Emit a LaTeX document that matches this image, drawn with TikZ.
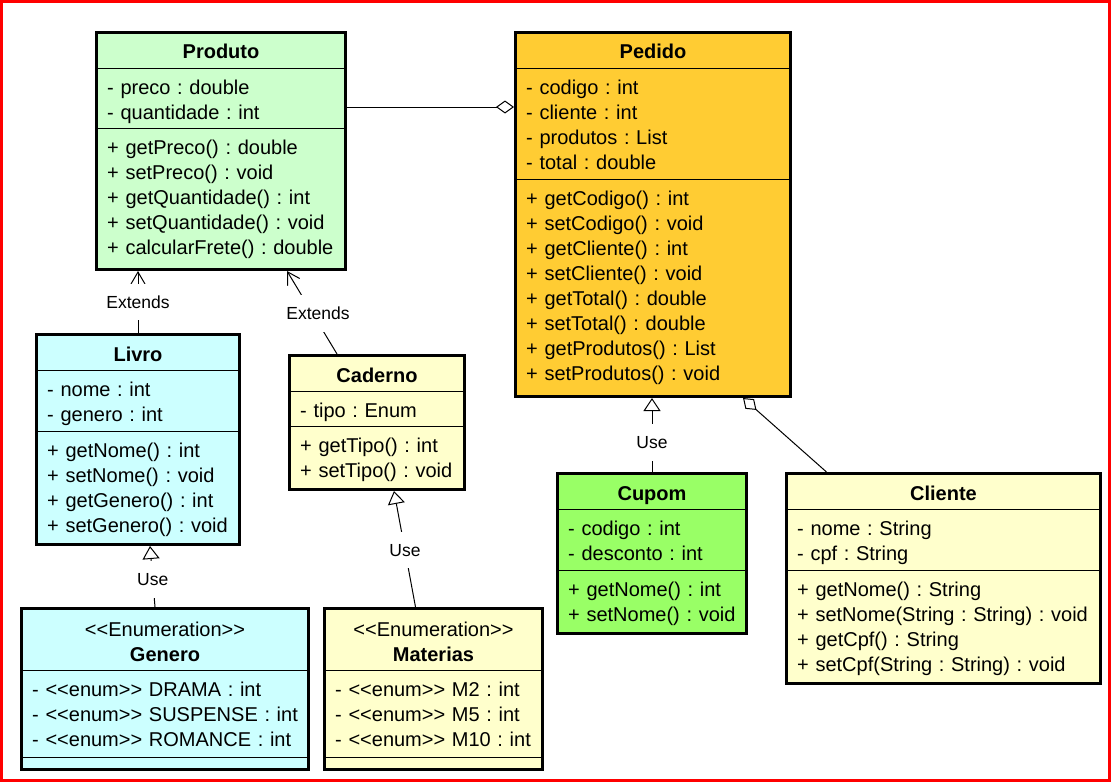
\documentclass[tikz,border=0pt]{standalone}
\usepackage{fontspec}
\newfontfamily\umlf{Liberation Sans}
\usetikzlibrary{arrows.meta}
\definecolor{cprod}{HTML}{CCFFCC}
\definecolor{cped}{HTML}{FFCC33}
\definecolor{ccyan}{HTML}{CCFFFF}
\definecolor{cyel}{HTML}{FFFFCC}
\definecolor{ccup}{HTML}{99FF66}
\definecolor{cframe}{HTML}{FF0000}
\tikzset{
  classbox/.style={draw=black, line width=3pt, inner sep=0pt, rectangle},
  sepline/.style={line width=1pt},
  members/.style={anchor=base west, inner sep=0pt, align=left, text width=320pt, font=\umlf\frenchspacing\fontsize{20}{25}\selectfont},
  ctitle/.style={anchor=base, inner sep=0pt, font=\umlf\bfseries\fontsize{20}{25}\selectfont},
  stereo/.style={anchor=base, inner sep=0pt, font=\umlf\fontsize{20}{25}\selectfont},
  conn/.style={line width=1pt},
  lbl/.style={fill=white, inner xsep=3pt, inner ysep=12pt, font=\umlf\fontsize{17.5}{20}\selectfont},
  arrExt/.style={-{Straight Barb[length=12pt,width=14pt]}},
  arrUse/.style={-{Triangle[length=13pt,width=17pt,fill=white]}},
  arrAgg/.style={-{Diamond[length=18pt,width=13pt,fill=white]}},
}
\begin{document}
\begin{tikzpicture}[x=1pt,y=-1pt]
\useasboundingbox (0,0) rectangle (1111,782);
\fill[white] (0,0) rectangle (1111,782);
\draw[cframe, line width=3pt] (1.5,1.5) rectangle (1109.5,780.5);

% ---------- Produto
\node[classbox, fill=cprod, minimum width=249pt, minimum height=237pt] (produto) at (221,151) {};
\draw[sepline] (96.5,68) -- (345.5,68);
\draw[sepline] (96.5,128) -- (345.5,128);
\node[ctitle] (produtoT) at (221,58) {Produto};
\node[members] (produtoA) at (107,94) {- preco : double\\- quantidade : int};
\node[members] (produtoM) at (107,154) {+ getPreco() : double\\+ setPreco() : void\\+ getQuantidade() : int\\+ setQuantidade() : void\\+ calcularFrete() : double};

% ---------- Pedido
\node[classbox, fill=cped, minimum width=275pt, minimum height=364pt] (pedido) at (653,214.5) {};
\draw[sepline] (515.5,68) -- (790.5,68);
\draw[sepline] (515.5,179) -- (790.5,179);
\node[ctitle] (pedidoT) at (653,58) {Pedido};
\node[members] (pedidoA) at (526,94) {- codigo : int\\- cliente : int\\- produtos : List\\- total : double};
\node[members] (pedidoM) at (526,205) {+ getCodigo() : int\\+ setCodigo() : void\\+ getCliente() : int\\+ setCliente() : void\\+ getTotal() : double\\+ setTotal() : double\\+ getProdutos() : List\\+ setProdutos() : void};

% ---------- Livro
\node[classbox, fill=ccyan, minimum width=203pt, minimum height=210pt] (livro) at (138,439.5) {};
\draw[sepline] (36.5,370) -- (239.5,370);
\draw[sepline] (36.5,431) -- (239.5,431);
\node[ctitle] (livroT) at (138,361) {Livro};
\node[members] (livroA) at (47,396) {- nome : int\\- genero : int};
\node[members] (livroM) at (47,457) {+ getNome() : int\\+ setNome() : void\\+ getGenero() : int\\+ setGenero() : void};

% ---------- Caderno
\node[classbox, fill=cyel, minimum width=175pt, minimum height=134pt] (caderno) at (377,422.5) {};
\draw[sepline] (289.5,391) -- (464.5,391);
\draw[sepline] (289.5,426) -- (464.5,426);
\node[ctitle] (cadernoT) at (377,382) {Caderno};
\node[members] (cadernoA) at (300,417) {- tipo : Enum};
\node[members] (cadernoM) at (300,452) {+ getTipo() : int\\+ setTipo() : void};

% ---------- Cupom
\node[classbox, fill=ccup, minimum width=189pt, minimum height=160pt] (cupom) at (652,553.5) {};
\draw[sepline] (557.5,509) -- (746.5,509);
\draw[sepline] (557.5,570) -- (746.5,570);
\node[ctitle] (cupomT) at (652,500) {Cupom};
\node[members] (cupomA) at (568,535) {- codigo : int\\- desconto : int};
\node[members] (cupomM) at (568,596) {+ getNome() : int\\+ setNome() : void};

% ---------- Cliente
\node[classbox, fill=cyel, minimum width=314pt, minimum height=210pt] (cliente) at (943.5,578.5) {};
\draw[sepline] (786.5,509) -- (1100.5,509);
\draw[sepline] (786.5,570) -- (1100.5,570);
\node[ctitle] (clienteT) at (943.5,500) {Cliente};
\node[members] (clienteA) at (797,535) {- nome : String\\- cpf : String};
\node[members] (clienteM) at (797,596) {+ getNome() : String\\+ setNome(String : String) : void\\+ getCpf() : String\\+ setCpf(String : String) : void};

% ---------- Genero
\node[classbox, fill=ccyan, minimum width=287pt, minimum height=161pt] (genero) at (165,689) {};
\draw[sepline] (21.5,670) -- (308.5,670);
\draw[sepline] (21.5,757) -- (308.5,757);
\node[stereo] (generoS) at (165,636) {<<Enumeration>>};
\node[ctitle] (generoT) at (165,661) {Genero};
\node[members] (generoA) at (32,696) {- <<enum>> DRAMA : int\\- <<enum>> SUSPENSE : int\\- <<enum>> ROMANCE : int};

% ---------- Materias
\node[classbox, fill=cyel, minimum width=218pt, minimum height=161pt] (materias) at (433.5,689) {};
\draw[sepline] (324.5,670) -- (542.5,670);
\draw[sepline] (324.5,757) -- (542.5,757);
\node[stereo] (materiasS) at (433.5,636) {<<Enumeration>>};
\node[ctitle] (materiasT) at (433.5,661) {Materias};
\node[members] (materiasA) at (335,696) {- <<enum>> M2 : int\\- <<enum>> M5 : int\\- <<enum>> M10 : int};

% ---------- connectors
\coordinate (aggY) at (0,107);
\draw[conn, arrAgg] (produto.east |- aggY) -- (pedido.west |- aggY);
\draw[conn, arrExt] (livro.north) -- node[lbl] {Extends} (livro.north |- produto.south);
\draw[conn, arrExt] ([xshift=-40pt]caderno.north) -- node[lbl, pos=0.49, xshift=5.5pt] {Extends} ([xshift=66pt]produto.south);
\draw[conn, arrUse] (cupom.north) -- node[lbl, pos=0.4] {Use} (cupom.north |- pedido.south);
\draw[conn, arrAgg] ([xshift=-117pt]cliente.north) -- ([xshift=90pt]pedido.south);
\draw[conn, arrUse] ([xshift=-10pt]genero.north) -- node[lbl, pos=0.45] {Use} ([xshift=12pt]livro.south);
\draw[conn, arrUse] ([xshift=-18pt]materias.north) -- node[lbl, pos=0.49] {Use} ([xshift=17pt]caderno.south);
\end{tikzpicture}
\end{document}
